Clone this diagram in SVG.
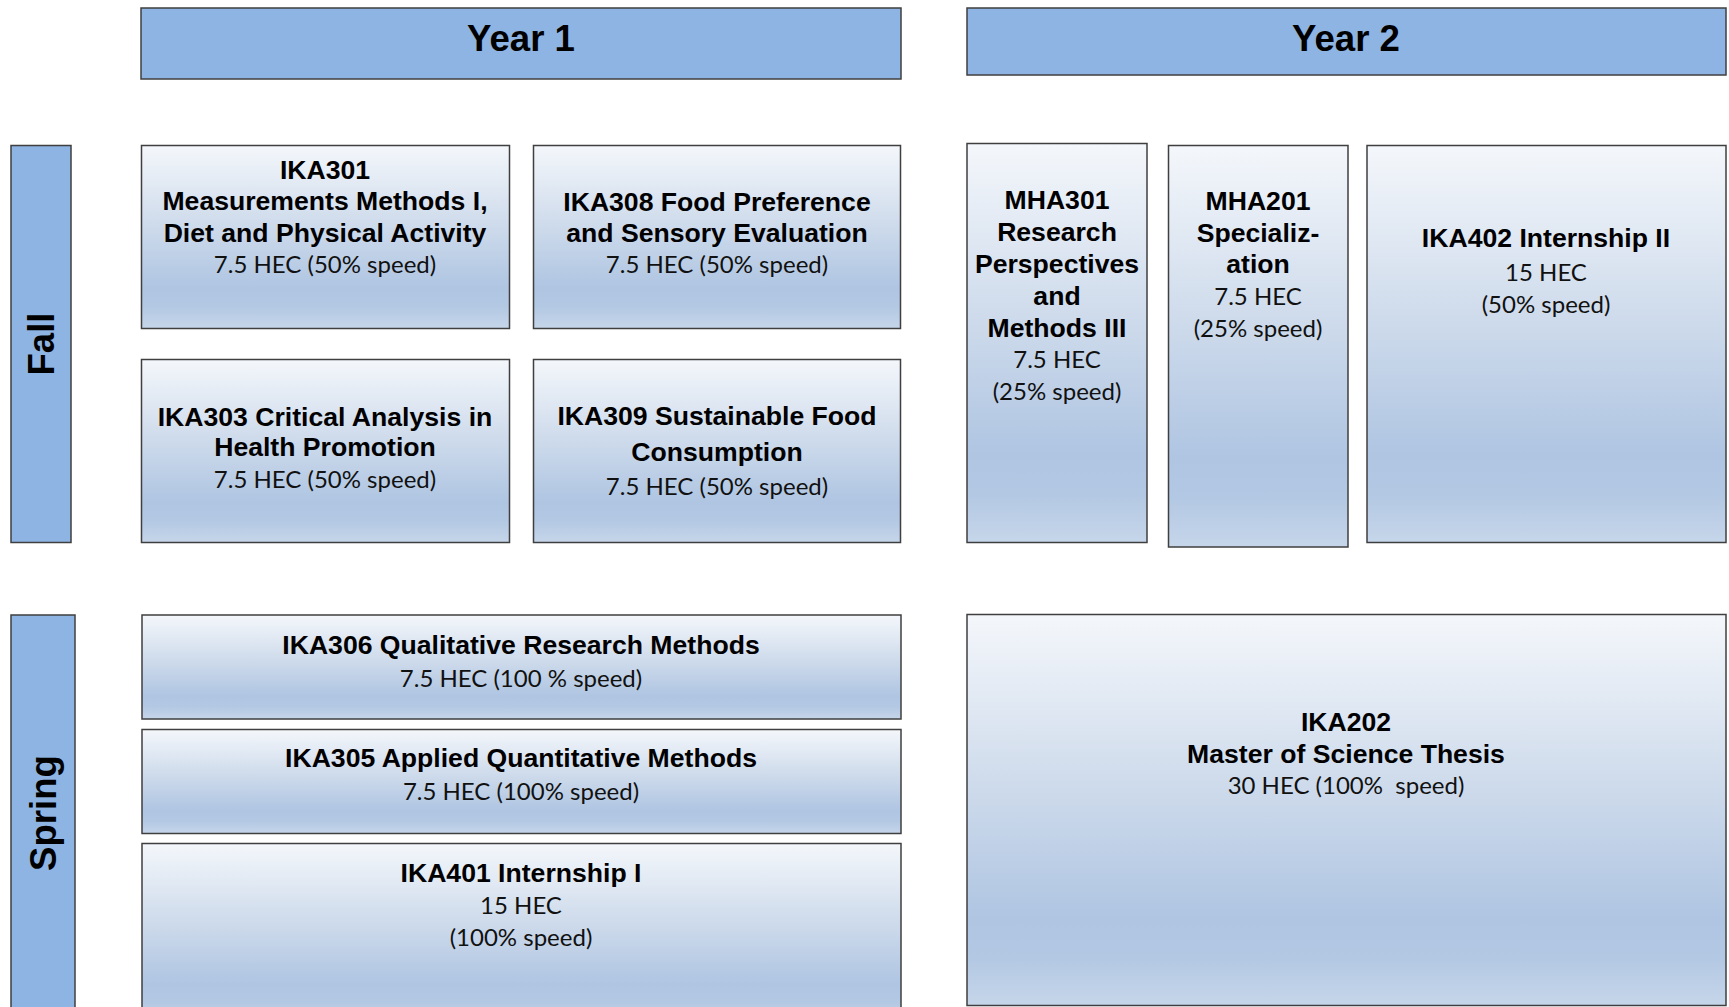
<svg xmlns="http://www.w3.org/2000/svg" width="1729" height="1007" viewBox="0 0 1729 1007">
<defs>
<linearGradient id="g" x1="0" y1="0" x2="0" y2="1">
<stop offset="0" stop-color="#f4f7fb"/>
<stop offset="0.45" stop-color="#cddaeb"/>
<stop offset="0.78" stop-color="#afc5e2"/>
<stop offset="0.88" stop-color="#b3c8e3"/>
<stop offset="1" stop-color="#c6d6ea"/>
</linearGradient>
<style>
.hdr{fill:#8eb4e3;stroke:#3f3f3f;stroke-width:1.5}
.box{fill:url(#g);stroke:#3f3f3f;stroke-width:1.5}
.t{font-family:"Liberation Sans",Arial,sans-serif;font-weight:bold;font-size:26.6px;fill:#000;text-anchor:middle}
.h{font-family:"Liberation Sans",Arial,sans-serif;font-weight:bold;font-size:36.6px;fill:#000;text-anchor:middle}
.s{font-family:Lato,"Open Sans",sans-serif;font-size:24px;fill:#111;text-anchor:middle}
</style>
</defs>
<rect width="1729" height="1007" fill="#fff"/>
<g id="year1"><rect class="hdr" x="141" y="8" width="760" height="71"/><text class="h" x="521" y="51">Year 1</text></g>
<g id="year2"><rect class="hdr" x="967" y="8" width="759" height="67"/><text class="h" x="1346" y="51">Year 2</text></g>
<g id="fall"><rect class="hdr" x="11" y="145.5" width="60" height="397"/><text class="h" transform="translate(54,344) rotate(-90)">Fall</text></g>
<g id="spring"><rect class="hdr" x="11" y="615" width="64" height="400"/><text class="h" transform="translate(56,813) rotate(-90)">Spring</text></g>
<g id="ika301"><rect class="box" x="141.5" y="145.5" width="368" height="183"/>
<text class="t" x="325" y="179">IKA301</text><text class="t" x="325" y="210">Measurements Methods I,</text><text class="t" x="325" y="242">Diet and Physical Activity</text><text class="s" x="325" y="273">7.5 HEC (50% speed)</text></g>
<g id="ika308"><rect class="box" x="533.5" y="145.5" width="367" height="183"/>
<text class="t" x="717" y="211">IKA308 Food Preference</text><text class="t" x="717" y="242">and Sensory Evaluation</text><text class="s" x="717" y="273">7.5 HEC (50% speed)</text></g>
<g id="ika303"><rect class="box" x="141.5" y="359.5" width="368" height="183"/>
<text class="t" x="325" y="426">IKA303 Critical Analysis in</text><text class="t" x="325" y="456">Health Promotion</text><text class="s" x="325" y="488">7.5 HEC (50% speed)</text></g>
<g id="ika309"><rect class="box" x="533.5" y="359.5" width="367" height="183"/>
<text class="t" x="717" y="425">IKA309 Sustainable Food</text><text class="t" x="717" y="461">Consumption</text><text class="s" x="717" y="495">7.5 HEC (50% speed)</text></g>
<g id="mha301"><rect class="box" x="967" y="143.5" width="180" height="399"/>
<text class="t" x="1057" y="209">MHA301</text><text class="t" x="1057" y="241">Research</text><text class="t" x="1057" y="273">Perspectives</text><text class="t" x="1057" y="305">and</text><text class="t" x="1057" y="337">Methods III</text><text class="s" x="1057" y="368">7.5 HEC</text><text class="s" x="1057" y="400">(25% speed)</text></g>
<g id="mha201"><rect class="box" x="1168.5" y="145.5" width="179.5" height="401.5"/>
<text class="t" x="1258" y="210">MHA201</text><text class="t" x="1258" y="242">Specializ-</text><text class="t" x="1258" y="273">ation</text><text class="s" x="1258" y="305">7.5 HEC</text><text class="s" x="1258" y="337">(25% speed)</text></g>
<g id="ika402"><rect class="box" x="1367" y="145.5" width="359" height="397"/>
<text class="t" x="1546" y="247">IKA402 Internship II</text><text class="s" x="1546" y="281">15 HEC</text><text class="s" x="1546" y="313">(50% speed)</text></g>
<g id="ika306"><rect class="box" x="142" y="615" width="759" height="104"/>
<text class="t" x="521" y="654">IKA306 Qualitative Research Methods</text><text class="s" x="521" y="687">7.5 HEC (100 % speed)</text></g>
<g id="ika305"><rect class="box" x="142" y="729.5" width="759" height="104"/>
<text class="t" x="521" y="767">IKA305 Applied Quantitative Methods</text><text class="s" x="521" y="800">7.5 HEC (100% speed)</text></g>
<g id="ika401"><rect class="box" x="142" y="843.5" width="759" height="180"/>
<text class="t" x="521" y="882">IKA401 Internship I</text><text class="s" x="521" y="914">15 HEC</text><text class="s" x="521" y="946">(100% speed)</text></g>
<g id="ika202"><rect class="box" x="967" y="614.5" width="759" height="391"/>
<text class="t" x="1346" y="731">IKA202</text><text class="t" x="1346" y="763">Master of Science Thesis</text><text class="s" x="1346" y="794" xml:space="preserve">30 HEC (100%  speed)</text></g>
<g id="connectors"/>
</svg>
